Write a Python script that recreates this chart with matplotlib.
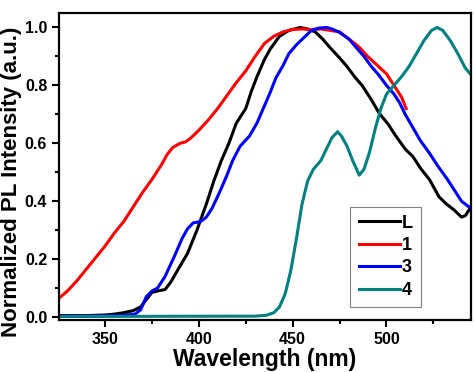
import numpy as np
from matplotlib import pyplot as plt
from matplotlib.ticker import MultipleLocator

plt.rcParams['font.family'] = ['Liberation Sans', 'DejaVu Sans']
plt.rcParams['font.weight'] = 'bold'

# L
wl_L = [325, 340, 350, 355, 360, 365, 369, 372, 375, 378, 382, 385, 389, 394, 399,
        404, 408, 412, 416, 420, 425, 428, 431, 435, 438, 443, 448, 454, 458, 462,
        466, 470, 475, 479, 483, 487, 492, 496, 501, 505, 510, 514, 518, 523, 528,
        532, 536, 540, 542, 545]
int_L = [0.005, 0.005, 0.007, 0.01, 0.015, 0.022, 0.035, 0.06, 0.085, 0.09, 0.095,
         0.12, 0.165, 0.22, 0.3, 0.39, 0.47, 0.54, 0.6, 0.67, 0.72, 0.78, 0.83, 0.89,
         0.925, 0.97, 0.99, 1.0, 0.995, 0.985, 0.96, 0.93, 0.895, 0.865, 0.83, 0.8,
         0.75, 0.705, 0.665, 0.625, 0.58, 0.555, 0.515, 0.474, 0.415, 0.39, 0.37,
         0.345, 0.35, 0.38]

# 1
wl_1 = [325.5, 330, 335, 340, 345, 350, 355, 360, 365, 370, 375, 380, 383, 386, 390,
        393, 396, 400, 405, 410, 415, 420, 425, 430, 435, 440, 445, 450, 455, 460,
        465, 470, 475, 480, 485, 490, 495, 500, 505, 508, 510.5]
int_1 = [0.065, 0.09, 0.125, 0.165, 0.205, 0.245, 0.29, 0.33, 0.38, 0.43, 0.475,
         0.525, 0.56, 0.585, 0.6, 0.605, 0.62, 0.645, 0.68, 0.72, 0.765, 0.81, 0.85,
         0.9, 0.945, 0.97, 0.985, 0.993, 0.995, 0.993, 0.995, 0.99, 0.985, 0.96,
         0.935, 0.9, 0.87, 0.84, 0.79, 0.76, 0.72]

# 3
wl_3 = [325, 350, 360, 366, 369, 372, 375, 378, 382, 387, 391, 394, 397, 401, 404,
        407, 411, 415, 418, 422, 427, 431, 434, 438, 441, 445, 448, 452, 456, 460,
        464, 468, 471, 475, 480, 484, 488, 492, 496, 500, 504, 507, 510, 514, 518,
        523, 527, 532, 536, 540, 543, 545]
int_3 = [0.003, 0.004, 0.006, 0.01, 0.025, 0.07, 0.09, 0.1, 0.14, 0.21, 0.27, 0.305,
         0.325, 0.33, 0.345, 0.375, 0.43, 0.49, 0.54, 0.59, 0.625, 0.67, 0.715,
         0.775, 0.825, 0.87, 0.91, 0.94, 0.965, 0.99, 0.998, 1.0, 0.995, 0.983,
         0.96, 0.93, 0.9, 0.865, 0.835, 0.8, 0.77, 0.74, 0.7, 0.655, 0.61, 0.565,
         0.525, 0.48, 0.44, 0.4, 0.385, 0.375]

# 4
wl_4 = [325, 430, 436, 440, 443, 446, 449, 452, 455, 458, 461, 465, 468, 471, 474,
        476, 479, 482, 485.5, 488, 491, 494, 497, 500, 504, 508, 512, 516, 520, 524,
        527, 530, 534, 538, 542, 545]
int_4 = [0.002, 0.003, 0.006, 0.015, 0.035, 0.08, 0.16, 0.27, 0.39, 0.47, 0.51, 0.54,
         0.58, 0.62, 0.64, 0.625, 0.59, 0.54, 0.49, 0.51, 0.57, 0.65, 0.72, 0.77,
         0.8, 0.83, 0.865, 0.91, 0.955, 0.99, 1.0, 0.99, 0.955, 0.91, 0.86, 0.837]

fig = plt.figure(figsize=(4.74, 3.72), dpi=100)
ax = fig.add_axes([0.1245, 0.14, 0.869, 0.825])

lw = 2.2
ax.plot(wl_L, int_L, color='black', lw=lw, label='L')
ax.plot(wl_1, int_1, color='#ff0000', lw=lw, label='1')
ax.plot(wl_3, int_3, color='#0000ff', lw=lw, label='3')
ax.plot(wl_4, int_4, color='#008080', lw=lw, label='4')

ax.set_xlim(325.5, 545)
ax.set_ylim(-0.01, 1.05)
ax.xaxis.set_major_locator(MultipleLocator(50))
ax.xaxis.set_minor_locator(MultipleLocator(25))
ax.yaxis.set_major_locator(MultipleLocator(0.2))
ax.yaxis.set_minor_locator(MultipleLocator(0.1))
ax.tick_params(which='major', direction='out', length=5, width=1.5, labelsize=11.5)
ax.tick_params(which='minor', direction='out', length=3, width=1.5)
for s in ax.spines.values():
    s.set_linewidth(1.6)

ax.set_xlabel('Wavelength (nm)', fontsize=16.5, fontweight='bold', labelpad=1)
ax.set_ylabel('Normalized PL Intensity (a.u.)', fontsize=16, fontweight='bold')
ax.yaxis.set_label_coords(-0.09, 0.45)

leg = ax.legend(loc='lower right', bbox_to_anchor=(0.879, 0.042), fancybox=False,
                edgecolor='gray', framealpha=1, handlelength=2.3, handletextpad=0.1,
                labelspacing=0.3, borderpad=0.45, borderaxespad=0,
                prop={'weight': 'bold', 'size': 13})
leg.get_frame().set_linewidth(0.8)

plt.savefig('out.png', dpi=100)
